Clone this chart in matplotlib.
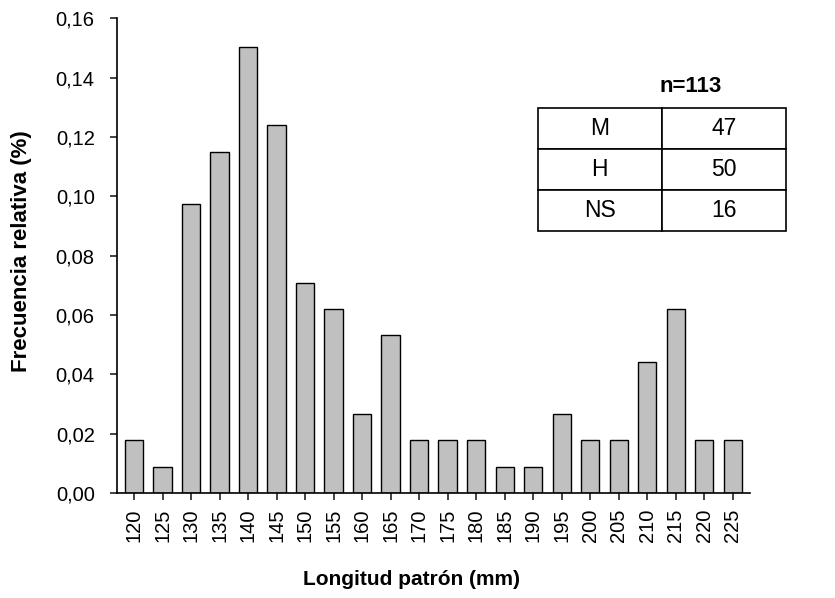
import matplotlib.pyplot as plt
from matplotlib.ticker import FuncFormatter, MultipleLocator

plt.rcParams['font.family'] = ['Liberation Sans', 'DejaVu Sans']

# Datos del histograma
longitudes = ['120', '125', '130', '135', '140', '145', '150', '155', '160', '165', '170',
              '175', '180', '185', '190', '195', '200', '205', '210', '215', '220', '225']
frecuencias = [0.0177, 0.0088, 0.0973, 0.1150, 0.1504, 0.1239, 0.0708, 0.0619, 0.0265, 0.0531, 0.0177,
               0.0177, 0.0177, 0.0088, 0.0088, 0.0265, 0.0177, 0.0177, 0.0442, 0.0619, 0.0177, 0.0177]

# Tabla de sexos
sexos = ['M', 'H', 'NS']
conteos = [47, 50, 16]
n_total = 113

fig = plt.figure(figsize=(8.35, 5.98), dpi=100)
ax = fig.add_axes([0.140, 0.1756, 0.758, 0.794])

x = range(len(longitudes))
ax.bar(x, frecuencias, width=0.64, color='#c0c0c0', edgecolor='black', linewidth=1.0)

ax.set_xlim(-0.6, len(longitudes) - 0.4)
ax.set_ylim(0, 0.16)
ax.set_xticks(list(x))
ax.set_xticklabels(longitudes, rotation=90, fontsize=14.5)
ax.yaxis.set_major_locator(MultipleLocator(0.02))
ax.yaxis.set_major_formatter(FuncFormatter(lambda v, p: f'{v:.2f}'.replace('.', ',')))
ax.tick_params(axis='y', labelsize=14.5, pad=11)
ax.tick_params(axis='x', pad=6)
ax.tick_params(direction='out', length=5, width=1.2, color='#222222')

ax.spines['top'].set_visible(False)
ax.spines['right'].set_visible(False)
ax.spines['left'].set_linewidth(1.2)
ax.spines['bottom'].set_linewidth(1.2)

ax.set_xlabel('Longitud patrón (mm)', fontsize=15, fontweight='bold')
ax.set_ylabel('Frecuencia relativa (%)', fontsize=16, fontweight='bold')
ax.xaxis.set_label_coords(0.466, -0.162)
ax.yaxis.set_label_coords(-0.134, 0.51)

# Tabla con n
tabla = ax.table(cellText=[[s, str(c)] for s, c in zip(sexos, conteos)],
                 cellLoc='center', bbox=[0.665, 0.5516, 0.392, 0.259])
tabla.auto_set_font_size(False)
tabla.set_fontsize(16.5)
tabla.set_clip_on(False)
for cell in tabla.get_celld().values():
    cell.set_linewidth(1.2)
    cell.set_clip_on(False)

fig.text(691 / 835, 1 - 86 / 598, f'n={n_total}', fontsize=16, fontweight='bold',
         ha='center', va='center')

fig.savefig('out.png', dpi=100)
